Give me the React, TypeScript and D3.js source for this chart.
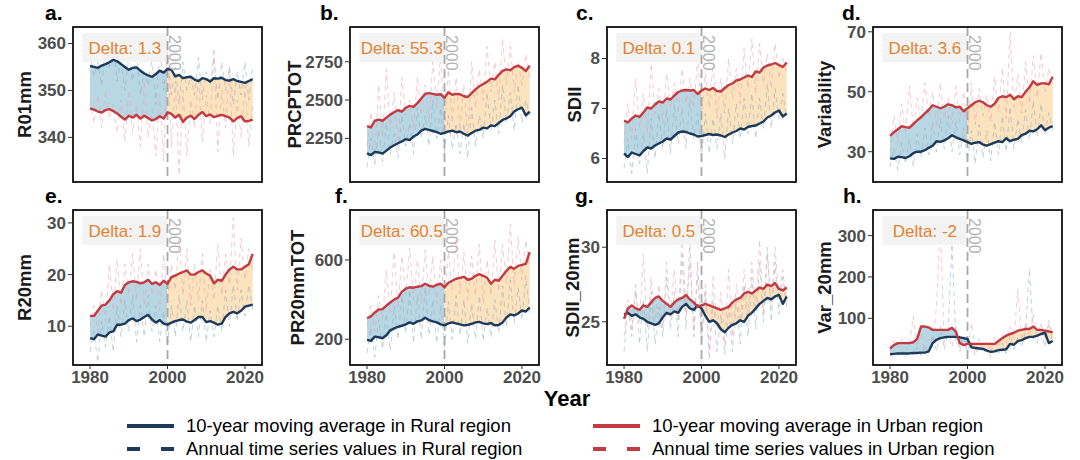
import * as d3 from "d3";

const years = d3.range(1980, 2023);

// a. R01mm
const r01RuralMA = [
  355.2, 355.0, 354.8, 355.3, 355.6, 356.0, 356.5, 356.2, 355.6, 355.0,
  354.4, 354.8, 354.9, 354.2, 353.6, 353.2, 352.9, 353.5, 354.2, 353.8,
  354.6, 354.4, 353.0, 353.3, 352.6, 352.8, 352.9, 352.3, 352.0, 352.6,
  352.4, 351.9, 352.6, 352.5, 352.7, 352.2, 352.1, 352.4, 352.0, 351.8,
  351.6, 352.0, 352.4,
];
const r01UrbanMA = [
  346.2, 345.9, 345.5, 345.3, 345.8, 346.0, 345.6, 345.1, 344.4, 343.8,
  344.6, 344.2, 344.8, 344.0, 344.6, 344.1, 343.6, 343.9, 344.5, 344.0,
  345.3, 345.0, 344.2, 344.8, 343.3, 344.2, 344.6, 343.9, 344.8, 345.4,
  344.5, 344.9, 344.3, 344.6, 344.8, 344.5, 344.2, 343.4, 344.1, 344.5,
  343.4, 343.5, 343.8,
];
const r01RuralAnnual = [
  358, 353, 356, 351, 359, 355, 360, 352, 357, 350,
  357, 352, 358, 349, 354, 351, 357, 347, 359, 350,
  358, 349, 355, 347, 356, 350, 353, 349, 357, 348,
  354, 351, 357, 348, 356, 350, 355, 347, 354, 349,
  356, 348, 355,
];
const r01UrbanAnnual = [
  348, 343, 349, 342, 350, 344, 347, 341, 348, 339,
  350, 341, 347, 338, 352, 340, 346, 336, 349, 335,
  360, 338, 352, 332, 350, 336, 348, 342, 353, 339,
  349, 343, 359, 337, 350, 342, 355, 336, 348, 340,
  351, 338, 347,
];

// b. PRCPTOT
const prcpRuralMA = [
  2152, 2140, 2162, 2158, 2150, 2170, 2190, 2205, 2218, 2230,
  2245, 2238, 2262, 2275, 2300, 2312, 2305, 2298, 2290, 2280,
  2285, 2295, 2300, 2290, 2295, 2280, 2268, 2285, 2300, 2305,
  2320, 2315, 2335, 2330, 2350, 2370, 2380, 2395, 2425, 2440,
  2450, 2400, 2425,
];
const prcpUrbanMA = [
  2330, 2322, 2365, 2372, 2365, 2385, 2405, 2420, 2435, 2425,
  2450, 2462, 2455, 2480, 2510, 2540, 2545, 2540, 2535, 2538,
  2515, 2550, 2535, 2540, 2538, 2525, 2520, 2545, 2570, 2590,
  2605, 2620, 2640, 2635, 2665, 2690, 2700, 2695, 2715, 2725,
  2710, 2690, 2725,
];
const prcpRuralAnnual = [
  2060, 2250, 2080, 2300, 2100, 2350, 2150, 2280, 2120, 2400,
  2200, 2350, 2150, 2450, 2250, 2400, 2200, 2500, 2250, 2450,
  2150, 2400, 2180, 2350, 2150, 2350, 2120, 2450, 2200, 2400,
  2250, 2550, 2300, 2500, 2280, 2600, 2350, 2550, 2300, 2600,
  2350, 2500, 2400,
];
const prcpUrbanAnnual = [
  2200, 2420, 2100, 2600, 2250, 2700, 2300, 2550, 2200, 2650,
  2400, 2500, 2300, 2650, 2400, 2600, 2350, 2750, 2450, 2800,
  2300, 2700, 2350, 2650, 2300, 2600, 2250, 2750, 2450, 2700,
  2500, 2850, 2550, 2750, 2500, 2900, 2600, 2850, 2550, 2750,
  2600, 2800, 2650,
];

// c. SDII
const sdiiRuralMA = [
  6.10, 6.03, 6.12, 6.09, 6.06, 6.15, 6.22, 6.20, 6.26, 6.30,
  6.34, 6.40, 6.38, 6.45, 6.52, 6.54, 6.53, 6.50, 6.48, 6.44,
  6.45, 6.47, 6.49, 6.47, 6.48, 6.46, 6.43, 6.48, 6.52, 6.55,
  6.60, 6.58, 6.63, 6.65, 6.66, 6.70, 6.74, 6.82, 6.86, 6.92,
  6.96, 6.84, 6.90,
];
const sdiiUrbanMA = [
  6.76, 6.72, 6.80, 6.86, 6.83, 6.92, 7.02, 7.00, 7.08, 7.14,
  7.12, 7.20, 7.18, 7.26, 7.33, 7.36, 7.37, 7.36, 7.37, 7.29,
  7.36, 7.40, 7.37, 7.41, 7.35, 7.34, 7.41, 7.47, 7.50, 7.56,
  7.58, 7.62, 7.66, 7.63, 7.74, 7.72, 7.82, 7.86, 7.88, 7.91,
  7.87, 7.83, 7.92,
];
const sdiiRuralAnnual = [
  5.8, 6.4, 5.7, 6.6, 5.9, 6.5, 5.7, 6.8, 6.0, 6.9,
  6.2, 7.0, 6.1, 7.1, 6.3, 7.0, 6.2, 7.2, 6.4, 6.9,
  6.0, 6.9, 6.1, 6.8, 6.2, 6.9, 6.0, 7.0, 6.3, 7.1,
  6.4, 7.2, 6.5, 7.3, 6.4, 7.2, 6.6, 7.5, 6.6, 7.4,
  6.8, 7.3, 6.8,
];
const sdiiUrbanAnnual = [
  6.3, 7.1, 6.4, 7.6, 6.6, 7.3, 6.5, 7.9, 6.9, 7.4,
  6.7, 7.7, 7.0, 7.5, 6.9, 7.8, 7.1, 7.6, 7.0, 8.0,
  6.9, 7.7, 7.0, 7.9, 6.8, 7.6, 6.9, 8.0, 7.2, 7.8,
  7.1, 8.2, 7.4, 8.4, 7.3, 8.3, 7.5, 8.1, 7.4, 8.3,
  7.6, 8.0, 7.7,
];

// d. Variability
const varRuralMA = [
  27.8, 27.6, 28.3, 28.2, 27.9, 28.5, 29.5, 30.0, 30.0, 30.5,
  31.3, 32.0, 33.5, 33.3, 33.8, 34.5, 35.5, 34.8, 34.3, 33.8,
  33.2, 32.6, 33.0, 33.2, 32.4, 32.0, 32.5, 33.0, 33.5, 33.2,
  34.5, 33.5, 34.0, 34.3, 35.5, 36.0, 37.0, 36.8, 37.5, 38.8,
  37.2, 38.0, 38.5,
];
const varUrbanMA = [
  35.3, 36.5, 37.5, 38.5, 38.2, 38.0, 39.2, 40.5, 41.5, 42.8,
  44.0, 45.5, 45.0, 44.5, 45.0, 45.8, 45.5, 44.8, 45.0, 43.5,
  44.5, 45.5, 46.5, 47.0, 46.5, 45.5, 45.0, 46.0, 48.0, 48.5,
  48.2, 49.0, 47.5, 48.5, 48.2, 50.0, 51.5, 53.5, 52.3, 52.8,
  52.8, 52.5, 55.0,
];
const varRuralAnnual = [
  25, 31, 24, 33, 26, 34, 25, 36, 28, 38,
  29, 40, 30, 41, 31, 42, 30, 40, 29, 38,
  27, 37, 26, 39, 28, 37, 27, 40, 29, 42,
  30, 45, 31, 41, 33, 44, 34, 47, 35, 46,
  36, 43, 37,
];
const varUrbanAnnual = [
  30, 42, 33, 46, 36, 52, 38, 48, 40, 53,
  42, 50, 38, 53, 41, 48, 39, 52, 40, 50,
  37, 53, 39, 51, 42, 49, 40, 55, 43, 58,
  41, 70, 45, 56, 43, 60, 46, 62, 48, 63,
  50, 58, 52,
];

// e. R20mm
const r20RuralMA = [
  7.7, 7.5, 8.4, 8.2, 8.0, 8.8, 9.0, 10.3, 10.3, 10.5,
  11.2, 11.5, 11.0, 11.3, 11.8, 12.2, 11.3, 10.7, 11.2, 10.5,
  10.3, 10.7, 11.0, 11.2, 11.3, 10.9, 10.7, 11.2, 11.8, 11.8,
  10.8, 11.0, 10.7, 10.3, 10.5, 11.8, 12.5, 12.8, 12.5, 13.0,
  13.8, 14.0, 14.2,
];
const r20UrbanMA = [
  12.0, 12.0, 13.0, 14.0, 14.2, 15.0, 16.2, 16.8, 16.5, 18.0,
  18.5, 18.7, 18.6, 18.3, 18.5, 19.0, 18.2, 18.5, 18.0, 18.8,
  18.2, 19.5, 19.8, 20.2, 20.5, 20.8, 20.0, 20.0, 20.5, 20.8,
  20.2, 19.8, 18.3, 19.0, 18.8, 20.0, 21.0, 21.5, 21.0, 21.0,
  21.5, 22.0, 24.0,
];
const r20RuralAnnual = [
  5, 9, 3, 11, 6, 12, 5, 14, 8, 15,
  9, 16, 7, 14, 8, 16, 9, 14, 7, 13,
  6, 14, 8, 16, 9, 15, 7, 14, 8, 15,
  7, 13, 8, 14, 9, 17, 10, 18, 11, 17,
  12, 18, 13,
];
const r20UrbanAnnual = [
  10, 14, 9, 17, 11, 22, 13, 23, 14, 22,
  16, 24, 15, 25, 14, 22, 16, 21, 13, 24,
  15, 22, 17, 27, 16, 25, 14, 22, 15, 24,
  13, 21, 15, 26, 16, 24, 18, 31, 17, 27,
  19, 25, 21,
];

// f. PR20mmTOT
const pr20RuralMA = [
  197, 192, 213, 210, 205, 220, 245, 255, 262, 268,
  275, 285, 278, 290, 295, 308, 297, 290, 285, 275,
  270, 280, 285, 280, 275, 270, 272, 278, 285, 287,
  280, 276, 282, 270, 272, 285, 310, 325, 320, 330,
  345, 340, 360,
];
const pr20UrbanMA = [
  306, 315, 335, 350, 352, 370, 385, 400, 410, 440,
  455, 462, 460, 465, 468, 480, 470, 465, 475, 480,
  462, 485, 495, 505, 510, 515, 500, 505, 520, 528,
  520, 510, 480, 500, 495, 520, 545, 565, 555, 570,
  575, 580, 640,
];
const pr20RuralAnnual = [
  130, 260, 110, 300, 150, 330, 140, 370, 200, 420,
  230, 450, 180, 420, 200, 460, 220, 400, 180, 370,
  150, 390, 200, 420, 220, 400, 180, 380, 200, 420,
  190, 360, 210, 400, 230, 470, 260, 500, 280, 460,
  300, 520, 330,
];
const pr20UrbanAnnual = [
  260, 370, 240, 420, 300, 550, 340, 640, 360, 620,
  420, 660, 400, 600, 380, 650, 420, 620, 380, 600,
  400, 640, 450, 720, 430, 640, 400, 620, 420, 680,
  380, 600, 420, 700, 440, 680, 480, 780, 470, 720,
  500, 700, 560,
];

// g. SDII_20mm
const sdii20RuralMA = [
  25.5, 25.6, 25.4, 25.5, 25.3, 25.2, 25.0, 24.9, 24.8, 24.9,
  25.3, 25.6, 25.5, 25.7, 25.6, 26.0, 26.2, 25.9, 25.8, 26.1,
  25.9, 25.4, 25.0, 25.1, 24.9, 24.5, 24.3, 24.6, 24.8, 24.9,
  25.1, 25.0, 25.4, 25.6, 25.9, 26.2, 26.4, 26.6, 26.5, 26.7,
  26.8, 26.2, 26.7,
];
const sdii20UrbanMA = [
  25.2, 25.9, 26.1, 25.9, 25.8, 26.1, 26.0, 26.3, 26.6, 26.7,
  26.4, 26.2, 26.0, 26.3, 26.5, 26.6, 26.8, 26.5, 26.3, 26.0,
  26.1, 26.2, 26.1, 26.0, 25.9, 25.8, 25.9, 26.0, 26.3, 26.5,
  26.6, 26.9, 27.0, 26.9, 27.1, 27.3, 27.2, 27.5, 27.4, 27.6,
  27.2, 27.1, 27.3,
];
const sdii20RuralAnnual = [
  23.0, 26.0, 24.0, 27.5, 23.5, 26.5, 23.0, 27.0, 23.5, 26.0,
  24.0, 28.0, 24.5, 27.0, 24.0, 29.5, 24.5, 30.5, 24.0, 29.0,
  23.5, 27.0, 22.5, 26.5, 23.0, 25.5, 22.8, 26.0, 23.0, 26.5,
  23.5, 27.5, 24.0, 28.0, 24.5, 29.0, 25.0, 30.0, 25.0, 29.0,
  25.5, 28.0, 26.0,
];
const sdii20UrbanAnnual = [
  24.0, 26.5, 24.5, 27.0, 25.0, 29.5, 24.5, 28.0, 25.0, 27.5,
  24.5, 29.0, 25.5, 28.5, 25.0, 31.0, 25.5, 29.0, 24.5, 28.0,
  24.0, 27.5, 23.0, 28.0, 24.5, 27.0, 23.5, 28.5, 24.0, 27.5,
  25.0, 28.5, 25.5, 29.0, 26.0, 30.5, 25.5, 29.5, 26.0, 30.0,
  26.5, 28.5, 26.0,
];

// h. Var_20mm
const var20RuralMA = [
  13, 14, 15, 15, 15, 15, 16, 16, 17, 17,
  20, 40, 48, 52, 54, 55, 55, 55, 54, 52,
  50, 30, 28, 27, 26, 22, 19, 20, 23, 24,
  25, 38, 36, 45, 47, 52, 55, 55, 58, 62,
  65, 40, 45,
];
const var20UrbanMA = [
  27, 35, 40, 40, 40, 40, 42, 50, 80, 80,
  78, 72, 72, 72, 72, 72, 77, 68, 40, 35,
  38, 38, 38, 38, 38, 38, 38, 38, 45, 52,
  58, 62, 65, 70, 72, 74, 74, 80, 72, 72,
  70, 68, 66,
];
const var20RuralAnnual = [
  8, 20, 10, 25, 8, 22, 12, 30, 10, 35,
  15, 60, 20, 80, 25, 70, 280, 40, 30, 60,
  20, 45, 10, 35, 15, 25, 5, 30, 10, 40,
  15, 60, 25, 55, 30, 70, 220, 50, 40, 75,
  30, 90, 40,
];
const var20UrbanAnnual = [
  20, 45, 30, 50, 25, 40, 105, 30, 60, 20,
  50, 30, 130, 330, 40, 60, 30, 80, 20, 50,
  15, 90, 20, 50, 25, 45, 20, 55, 30, 60,
  40, 80, 50, 170, 45, 90, 55, 110, 50, 90,
  45, 95, 60,
];

const panels = [
  { tag: "a.", title: "R01mm", delta: "1.3", domain: [330.5, 363.5], ticks: [340, 350, 360], col: 0, row: 0, tagDx: -28, titleDx: -48, rMA: r01RuralMA, uMA: r01UrbanMA, rA: r01RuralAnnual, uA: r01UrbanAnnual },
  { tag: "b.", title: "PRCPTOT", delta: "55.3", domain: [1965, 2977], ticks: [2250, 2500, 2750], col: 1, row: 0, tagDx: -30, titleDx: -55, rMA: prcpRuralMA, uMA: prcpUrbanMA, rA: prcpRuralAnnual, uA: prcpUrbanAnnual },
  { tag: "c.", title: "SDII", delta: "0.1", domain: [5.53, 8.63], ticks: [6, 7, 8], col: 2, row: 0, tagDx: -31, titleDx: -32, rMA: sdiiRuralMA, uMA: sdiiUrbanMA, rA: sdiiRuralAnnual, uA: sdiiUrbanAnnual },
  { tag: "d.", title: "Variability", delta: "3.6", domain: [19.9, 71.6], ticks: [30, 50, 70], col: 3, row: 0, tagDx: -31, titleDx: -48, rMA: varRuralMA, uMA: varUrbanMA, rA: varRuralAnnual, uA: varUrbanAnnual },
  { tag: "e.", title: "R20mm", delta: "1.9", domain: [2.5, 32.5], ticks: [10, 20, 30], col: 0, row: 1, tagDx: -28, titleDx: -48, rMA: r20RuralMA, uMA: r20UrbanMA, rA: r20RuralAnnual, uA: r20UrbanAnnual },
  { tag: "f.", title: "PR20mmTOT", delta: "60.5", domain: [70, 852], ticks: [200, 600], col: 1, row: 1, tagDx: -15, titleDx: -52, rMA: pr20RuralMA, uMA: pr20UrbanMA, rA: pr20RuralAnnual, uA: pr20UrbanAnnual },
  { tag: "g.", title: "SDII_20mm", delta: "0.5", domain: [22.1, 32.5], ticks: [25, 30], col: 2, row: 1, tagDx: -32, titleDx: -34, rMA: sdii20RuralMA, uMA: sdii20UrbanMA, rA: sdii20RuralAnnual, uA: sdii20UrbanAnnual },
  { tag: "h.", title: "Var_20mm", delta: "-2", domain: [-13, 362], ticks: [100, 200, 300], col: 3, row: 1, tagDx: -30, titleDx: -48, rMA: var20RuralMA, uMA: var20UrbanMA, rA: var20RuralAnnual, uA: var20UrbanAnnual },
];

const xTicks = [1980, 2000, 2020];

const COL_LEFT = [73, 350, 607, 873];
const ROW_TOP = [27, 210];
const TAG_Y = [20, 203];
const PW = 189;
const PH = 155;
const X_DOMAIN = [1975.6, 2024.4];

const FONT = "'Liberation Sans', Arial, Helvetica, sans-serif";
const RURAL = "#1b3a5c";
const URBAN = "#c33a41";
const RURAL_DASH = "#9aabbd";
const URBAN_DASH = "#e8a3ae";
const BLUE_FILL = "#b8d7e4";
const ORANGE_FILL = "#fbe3bd";

type Pt = { yr: number; r: number; u: number; ra: number; ua: number };

function Panel({ p, idx }: { p: (typeof panels)[0]; idx: number }) {
  const left = COL_LEFT[p.col];
  const top = ROW_TOP[p.row];
  const x = d3.scaleLinear().domain(X_DOMAIN).range([left, left + PW]);
  const y = d3.scaleLinear().domain(p.domain).range([top + PH, top]);

  const pts: Pt[] = years.map((yr, i) => ({ yr, r: p.rMA[i], u: p.uMA[i], ra: p.rA[i], ua: p.uA[i] }));
  const before = pts.filter((d) => d.yr <= 2000);
  const after = pts.filter((d) => d.yr >= 2000);

  const area = d3.area<Pt>().x((d) => x(d.yr)).y0((d) => y(d.r)).y1((d) => y(d.u));
  const line = (key: "r" | "u" | "ra" | "ua") => d3.line<Pt>().x((d) => x(d.yr)).y((d) => y(d[key]))(pts) ?? "";

  const x2000 = x(2000);
  const clipId = `clip-${idx}`;

  return (
    <g>
      <defs>
        <clipPath id={clipId}>
          <rect x={left} y={top} width={PW} height={PH} />
        </clipPath>
      </defs>
      <g clipPath={`url(#${clipId})`}>
        <path d={area(before) ?? ""} fill={BLUE_FILL} />
        <path d={area(after) ?? ""} fill={ORANGE_FILL} />
        <path d={line("ra")} fill="none" stroke={RURAL_DASH} strokeWidth={0.75} strokeDasharray="5 4" opacity={0.75} />
        <path d={line("ua")} fill="none" stroke={URBAN_DASH} strokeWidth={0.75} strokeDasharray="5 4" opacity={0.75} />
        <rect x={x(1978)} y={top + 6} width={x(2000) - x(1978)} height={29} fill="#f2f2f2" opacity={0.92} />
        <line x1={x2000} x2={x2000} y1={top} y2={top + PH} stroke="#a8a8a8" strokeWidth={1.8} strokeDasharray="9 5" />
        <path d={line("r")} fill="none" stroke={RURAL} strokeWidth={2.4} strokeLinejoin="round" />
        <path d={line("u")} fill="none" stroke={URBAN} strokeWidth={2.4} strokeLinejoin="round" />
      </g>
      <text
        x={(x(1978) + x(2000)) / 2}
        y={top + 27}
        textAnchor="middle"
        fontSize={17}
        fill="#e4822f"
        fontFamily={FONT}
      >
        {`Delta: ${p.delta}`}
      </text>
      <text
        transform={`translate(${x2000 + 1.5},${top + 8}) rotate(90)`}
        fontSize={16}
        fill="#b3b3b3"
        fontFamily={FONT}
      >
        2000
      </text>
      <rect x={left} y={top} width={PW} height={PH} fill="none" stroke="#000" strokeWidth={1.7} />

      {/* y axis */}
      {p.ticks.map((t) => (
        <g key={t}>
          <line x1={left - 5} x2={left} y1={y(t)} y2={y(t)} stroke="#333" strokeWidth={1} />
          <text x={left - 7} y={y(t)} dy="0.35em" textAnchor="end" fontSize={17} fontWeight="bold" fill="#4d4d4d" fontFamily={FONT}>
            {t}
          </text>
        </g>
      ))}
      <text
        transform={`translate(${left + p.titleDx},${top + PH / 2}) rotate(-90)`}
        dy="0.35em"
        textAnchor="middle"
        fontSize={18.5}
        fontWeight="bold"
        fill="#1a1a1a"
        fontFamily={FONT}
      >
        {p.title}
      </text>

      {/* x axis on bottom row */}
      {p.row === 1 &&
        xTicks.map((t) => (
          <g key={t}>
            <line x1={x(t)} x2={x(t)} y1={top + PH} y2={top + PH + 4} stroke="#333" strokeWidth={1} />
            <text x={x(t)} y={top + PH + 18} textAnchor="middle" fontSize={17} fontWeight="bold" fill="#4d4d4d" fontFamily={FONT}>
              {t}
            </text>
          </g>
        ))}

      <text x={left + p.tagDx} y={TAG_Y[p.row]} fontSize={21} fontWeight="bold" fill="#000" fontFamily={FONT}>
        {p.tag}
      </text>
    </g>
  );
}

const legendItems = [
  { label: "10-year moving average in Rural region", color: RURAL, dashed: false, col: 0, row: 0 },
  { label: "Annual time series values in Rural region", color: RURAL, dashed: true, col: 0, row: 1 },
  { label: "10-year moving average in Urban region", color: URBAN, dashed: false, col: 1, row: 0 },
  { label: "Annual time series values in Urban region", color: URBAN, dashed: true, col: 1, row: 1 },
];

export default function App() {
  const legendX = [127, 593];
  const legendY = [426, 449];
  return (
    <svg
      width={1080}
      height={460}
      style={{ position: "absolute", left: 0, top: 0, background: "#fff", display: "block" }}
    >
      <rect width={1080} height={460} fill="#fff" />
      {panels.map((p, i) => (
        <Panel key={p.tag} p={p} idx={i} />
      ))}
      <text x={567} y={406} textAnchor="middle" fontSize={22} fontWeight="bold" fill="#000" fontFamily={FONT}>
        Year
      </text>
      {legendItems.map((it) => {
        const lx = legendX[it.col];
        const ly = legendY[it.row];
        return (
          <g key={it.label}>
            <line
              x1={lx}
              x2={lx + 47}
              y1={ly}
              y2={ly}
              stroke={it.color}
              strokeWidth={4}
              strokeDasharray={it.dashed ? "13 21" : undefined}
            />
            <text x={lx + 59} y={ly} dy="0.35em" fontSize={18.5} fill="#000" fontFamily={FONT}>
              {it.label}
            </text>
          </g>
        );
      })}
    </svg>
  );
}
